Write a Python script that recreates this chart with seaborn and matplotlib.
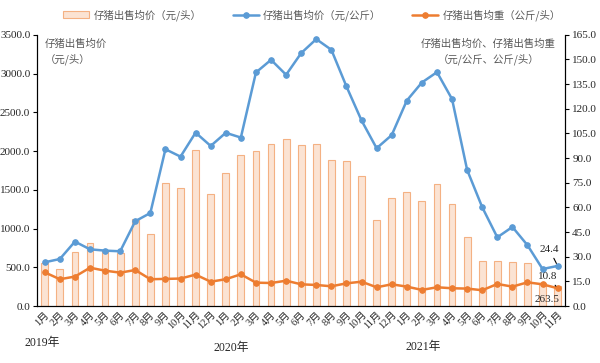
import matplotlib
matplotlib.use("Agg")
import matplotlib.pyplot as plt
import numpy as np
import pandas as pd
import seaborn as sns

months = ["1月", "2月", "3月", "4月", "5月", "6月", "7月", "8月", "9月", "10月", "11月", "12月"] * 2 + \
         ["1月", "2月", "3月", "4月", "5月", "6月", "7月", "8月", "9月", "10月", "11月"]

# 仔猪出售均价 (元/头)
price_head = [551, 474, 693, 814, 706, 680, 1120, 934, 1593, 1528, 2011, 1443,
              1722, 1946, 1998, 2088, 2157, 2075, 2088, 1882, 1873, 1675, 1111, 1391,
              1472, 1356, 1580, 1321, 887, 577, 577, 564, 551, 297, 263.5]
# 仔猪出售均价 (元/公斤)
price_kg = [26.6, 28.6, 39.2, 34.5, 33.7, 33.3, 51.6, 56.6, 95.4, 90.9, 105.5, 97.4,
            105.4, 102.5, 142.1, 149.8, 140.7, 153.9, 162.4, 155.9, 133.6, 112.9, 96.0, 104.0,
            125.0, 136.0, 142.3, 125.9, 82.8, 60.1, 41.8, 48.1, 37.0, 22.5, 24.4]
# 仔猪出售均重 (公斤/头)
weight = [20.5, 16.3, 17.9, 23.3, 21.5, 20.3, 21.9, 16.3, 16.5, 16.7, 19.1, 14.8,
          16.3, 19.3, 14.2, 14.0, 15.4, 13.2, 12.8, 12.0, 13.8, 14.8, 11.4, 13.2,
          11.8, 9.8, 11.4, 10.8, 10.6, 9.6, 13.4, 11.8, 14.4, 13.2, 10.8]

df = pd.DataFrame({"pos": np.arange(len(months)), "month": months,
                   "price_head": price_head, "price_kg": price_kg, "weight": weight})

sns.set_style("white")
plt.rcParams["font.family"] = ["Liberation Serif", "Noto Sans CJK SC"]

blue = "#5B9BD5"
orange = "#ED7D31"
gray = "#595959"

fig = plt.figure(figsize=(6, 3.63), dpi=100)
ax = fig.add_axes([0.062, 0.157, 0.880, 0.747])

sns.barplot(data=df, x="pos", y="price_head", ax=ax, color="#FBE3D3",
            edgecolor="#F4B183", linewidth=0.8, width=0.45, saturation=1,
            label="仔猪出售均价（元/头）")
ax.set_xlim(-0.5, len(months) - 0.5)
ax.set_ylim(0, 3500)
ax.set_yticks(np.arange(0, 3501, 500))
ax.set_yticklabels([f"{v:.1f}" for v in np.arange(0, 3501, 500)], fontsize=8)
ax.set_xticks(np.arange(len(months)))
ax.set_xticklabels(months, rotation=45, ha="right", rotation_mode="anchor", fontsize=7.5)
ax.tick_params(axis="x", length=0, pad=3)
ax.set_xticks(np.arange(-0.5, len(months)), minor=True)
ax.tick_params(axis="x", which="minor", length=4, color="black", direction="out")
ax.tick_params(axis="y", length=3, color="black", direction="out", pad=2)
ax.set_xlabel("")
ax.set_ylabel("")

ax2 = ax.twinx()
sns.lineplot(data=df, x="pos", y="price_kg", ax=ax2, color=blue, linewidth=1.8,
             marker="o", markersize=4, markeredgecolor=blue, label="仔猪出售均价（元/公斤）")
sns.lineplot(data=df, x="pos", y="weight", ax=ax2, color=orange, linewidth=1.8,
             marker="o", markersize=4, markeredgecolor=orange, label="仔猪出售均重（公斤/头）")
ax2.set_ylim(0, 165)
ax2.set_yticks(np.arange(0, 166, 15))
ax2.set_yticklabels([f"{v:.1f}" for v in np.arange(0, 166, 15)], fontsize=8)
ax2.tick_params(axis="y", length=3, color="black", direction="out", pad=2)
ax2.set_ylabel("")
ax2.set_xlabel("")
ax2.set_xlim(-0.5, len(months) - 0.5)

for a in (ax, ax2):
    a.spines["top"].set_visible(False)
    for s in ["left", "right", "bottom"]:
        a.spines[s].set_color("black")
        a.spines[s].set_linewidth(0.8)

# legend
h1, l1 = ax.get_legend_handles_labels()
h2, l2 = ax2.get_legend_handles_labels()
for a in (ax, ax2):
    if a.get_legend():
        a.get_legend().remove()
fig.legend(h1 + h2, l1 + l2, loc="upper center", bbox_to_anchor=(0.52, 1.0), ncol=3,
           frameon=False, labelcolor=gray, handlelength=2.5,
           columnspacing=3.0, handletextpad=0.4,
           prop={"family": ["Noto Sans CJK SC"], "size": 7.5})

# axis titles inside plot
ax.text(0.015, 0.985, "仔猪出售均价\n（元/头）", transform=ax.transAxes, ha="left", va="top",
        fontsize=7.5, color=gray, family=["Noto Sans CJK SC"], linespacing=1.5)
ax2.text(0.982, 0.985, "仔猪出售均价、仔猪出售均重\n（元/公斤、公斤/头）", transform=ax2.transAxes,
         ha="right", va="top", fontsize=7.5, color=gray, family=["Noto Sans CJK SC"],
         linespacing=1.5, multialignment="center")

# annotations on last points
last = len(months) - 1
ax2.annotate(f"{price_kg[-1]:.1f}", xy=(last, price_kg[-1]), xytext=(last - 1.2, 33),
             fontsize=8, color="#262626",
             arrowprops=dict(arrowstyle="-", color="black", lw=0.8, shrinkA=1, shrinkB=2))
ax2.annotate(f"{weight[-1]:.1f}", xy=(last, weight[-1]), xytext=(last - 1.3, 16.5),
             fontsize=8, color="#262626",
             arrowprops=dict(arrowstyle="-", color="black", lw=0.8, shrinkA=1, shrinkB=2))
ax2.text(last - 1.5, 2.5, f"{price_head[-1]:.1f}", fontsize=8, color="#262626")

# year labels
fig.text(0.07, 0.055, "2019年", ha="center", va="center", fontsize=8.5)
fig.text(0.385, 0.042, "2020年", ha="center", va="center", fontsize=8.5)
fig.text(0.705, 0.045, "2021年", ha="center", va="center", fontsize=8.5)

fig.savefig("out.png", dpi=100)
